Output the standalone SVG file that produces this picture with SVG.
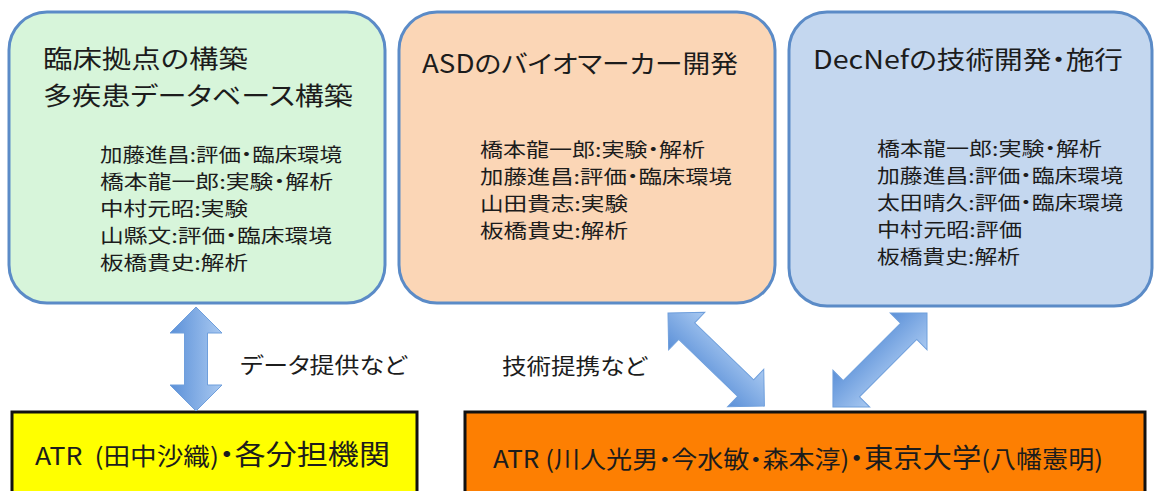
<svg xmlns="http://www.w3.org/2000/svg" width="1157" height="491" viewBox="0 0 1157 491">
<style>
text { font-family: "Noto Sans CJK JP", "Noto Sans", sans-serif; fill: #1c1c1c; font-feature-settings: "palt" 1; }
.box { stroke: #5b8bc7; stroke-width: 3; }
.title { font-size: 25px; }
.mem { font-size: 19px; }
.lbl { font-size: 22px; }
.bot { font-size: 26px; }
.plain { stroke: #111; stroke-width: 3; }
.arrow { fill: url(#ag); stroke: #6f9fdc; stroke-width: 1; }
</style>
<defs>
<linearGradient id="ag" x1="0" y1="0" x2="0" y2="1">
<stop offset="0" stop-color="#a9c9f1"/>
<stop offset="1" stop-color="#5b90d8"/>
</linearGradient>
</defs>
<rect width="1157" height="491" fill="#ffffff"/>

<g id="node-clinical">
<rect class="box" x="9" y="12" width="376" height="291" rx="38" fill="#d7f5da"/>
<text class="title" x="43" y="68" textLength="205" lengthAdjust="spacingAndGlyphs">臨床拠点の構築</text>
<text class="title" x="43" y="105" textLength="310" lengthAdjust="spacingAndGlyphs">多疾患データベース構築</text>
<text class="mem" x="100" y="162" textLength="242" lengthAdjust="spacingAndGlyphs">加藤進昌:評価・臨床環境</text>
<text class="mem" x="100" y="189" textLength="233" lengthAdjust="spacingAndGlyphs">橋本龍一郎:実験・解析</text>
<text class="mem" x="100" y="216" textLength="148" lengthAdjust="spacingAndGlyphs">中村元昭:実験</text>
<text class="mem" x="100" y="243" textLength="232" lengthAdjust="spacingAndGlyphs">山縣文:評価・臨床環境</text>
<text class="mem" x="100" y="270" textLength="148" lengthAdjust="spacingAndGlyphs">板橋貴史:解析</text>
</g>

<g id="node-asd">
<rect class="box" x="399" y="12" width="376" height="291" rx="38" fill="#fbd6b6"/>
<text class="title" x="422" y="73" textLength="316" lengthAdjust="spacingAndGlyphs">ASDのバイオマーカー開発</text>
<text class="mem" x="480" y="157" textLength="225" lengthAdjust="spacingAndGlyphs">橋本龍一郎:実験・解析</text>
<text class="mem" x="480" y="184" textLength="252" lengthAdjust="spacingAndGlyphs">加藤進昌:評価・臨床環境</text>
<text class="mem" x="480" y="211" textLength="148" lengthAdjust="spacingAndGlyphs">山田貴志:実験</text>
<text class="mem" x="480" y="238" textLength="148" lengthAdjust="spacingAndGlyphs">板橋貴史:解析</text>
</g>

<g id="node-decnef">
<rect class="box" x="789" y="12" width="363" height="294" rx="38" fill="#c4d7ef"/>
<text class="title" x="813" y="69" textLength="310" lengthAdjust="spacingAndGlyphs">DecNefの技術開発・施行</text>
<text class="mem" x="877" y="156" textLength="225" lengthAdjust="spacingAndGlyphs">橋本龍一郎:実験・解析</text>
<text class="mem" x="877" y="183" textLength="246" lengthAdjust="spacingAndGlyphs">加藤進昌:評価・臨床環境</text>
<text class="mem" x="877" y="210" textLength="246" lengthAdjust="spacingAndGlyphs">太田晴久:評価・臨床環境</text>
<text class="mem" x="877" y="237" textLength="145" lengthAdjust="spacingAndGlyphs">中村元昭:評価</text>
<text class="mem" x="877" y="264" textLength="143" lengthAdjust="spacingAndGlyphs">板橋貴史:解析</text>
</g>

<g id="node-atr-left">
<rect class="plain" x="12" y="412" width="405" height="100" fill="#ffff00"/>
<text class="bot" x="35" y="465" textLength="355" lengthAdjust="spacingAndGlyphs"><tspan font-size="24">ATR&#160; (田中沙織)</tspan><tspan font-size="28">・各分担機関</tspan></text>
</g>

<g id="node-atr-right">
<rect class="plain" x="465" y="412" width="680" height="100" fill="#fd7f02"/>
<text class="bot" x="493" y="468" textLength="610" lengthAdjust="spacingAndGlyphs"><tspan font-size="24">ATR (川人光男・今水敏・森本淳)</tspan><tspan font-size="27">・東京大学</tspan><tspan font-size="24">(八幡憲明)</tspan></text>
</g>

<g id="connectors">
<polygon class="arrow" transform="translate(196,307) rotate(90)" points="0,0 26,-26 26,-11.5 78,-11.5 78,-26 104,0 78,26 78,11.5 26,11.5 26,26"/>
<polygon class="arrow" transform="translate(668,313) rotate(44)" points="0,0 26,-26 26,-11.5 108,-11.5 108,-26 134,0 108,26 108,11.5 26,11.5 26,26"/>
<polygon class="arrow" transform="translate(927,313) rotate(135)" points="0,0 26,-26 26,-11.5 107,-11.5 107,-26 133,0 107,26 107,11.5 26,11.5 26,26"/>
<text class="lbl" x="240" y="373" textLength="167" lengthAdjust="spacingAndGlyphs">データ提供など</text>
<text class="lbl" x="502" y="374" textLength="145" lengthAdjust="spacingAndGlyphs">技術提携など</text>
</g>
</svg>
